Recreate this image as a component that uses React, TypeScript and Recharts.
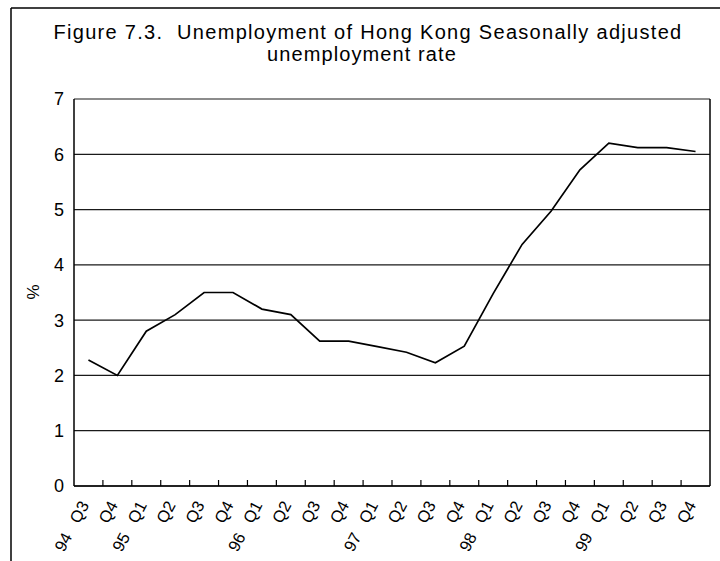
import React from 'react';
import { LineChart, Line, XAxis, YAxis, CartesianGrid } from 'recharts';

const quarters = [
  '1994Q3', '1994Q4', '1995Q1', '1995Q2', '1995Q3', '1995Q4', '1996Q1', '1996Q2',
  '1996Q3', '1996Q4', '1997Q1', '1997Q2', '1997Q3', '1997Q4', '1998Q1', '1998Q2',
  '1998Q3', '1998Q4', '1999Q1', '1999Q2', '1999Q3', '1999Q4',
];
const yearLabels = ['94', '', '95', '', '', '', '96', '', '', '', '97', '', '', '', '98', '', '', '', '99', '', '', ''];
const quarterLabels = ['Q3', 'Q4', 'Q1', 'Q2', 'Q3', 'Q4', 'Q1', 'Q2', 'Q3', 'Q4', 'Q1', 'Q2', 'Q3', 'Q4', 'Q1', 'Q2', 'Q3', 'Q4', 'Q1', 'Q2', 'Q3', 'Q4'];
const rate = [2.28, 2.0, 2.8, 3.1, 3.5, 3.5, 3.2, 3.1, 2.62, 2.62, 2.52, 2.42, 2.23, 2.53, 3.48, 4.37, 4.97, 5.72, 6.2, 6.12, 6.12, 6.05];
const yTicks = [0, 1, 2, 3, 4, 5, 6, 7];
const titleLines = ['Figure 7.3.\u00a0 Unemployment of Hong Kong Seasonally adjusted', 'unemployment rate'];

const data = quarters.map((q, i) => ({ q, rate: rate[i] }));

const FONT = '"Liberation Sans", Arial, Helvetica, sans-serif';
const W = 720;
const H = 561;
const LEFT = 74;
const RIGHT_M = 10;
const TOP = 99;
const XH = 75;
const HALF_BAND = (W - LEFT - RIGHT_M) / quarters.length / 2;

const XTick = (props: any) => {
  const { x, y, index } = props;
  const yr = yearLabels[index];
  const qt = quarterLabels[index];
  const label = yr ? `${yr}\u00a0\u00a0\u00a0${qt}` : qt;
  const ax = x + 1;
  const ay = y + 19;
  return (
    <g>
      {index < quarters.length - 1 && (
        <line x1={x + HALF_BAND} x2={x + HALF_BAND} y1={y} y2={y - 6} stroke="#000" strokeWidth={1.2} />
      )}
      <text
        x={ax}
        y={ay}
        textAnchor="end"
        transform={`rotate(-62, ${ax}, ${ay})`}
        fontSize={16.5}
        fontFamily={FONT}
        fill="#000"
      >
        {label}
      </text>
    </g>
  );
};

export default function App() {
  return (
    <div style={{ position: 'absolute', left: 0, top: 0, width: W, height: H, background: '#fff' }}>
      <LineChart
        width={W}
        height={H}
        data={data}
        margin={{ top: TOP, right: RIGHT_M, left: 0, bottom: 0 }}
      >
        <CartesianGrid horizontal vertical={false} stroke="#1a1a1a" strokeWidth={1.2} />
        <XAxis
          dataKey="q"
          height={XH}
          interval={0}
          padding={{ left: HALF_BAND, right: HALF_BAND }}
          tickLine={false}
          tickSize={0}
          tickMargin={0}
          axisLine={{ stroke: '#000', strokeWidth: 1.5 }}
          tick={<XTick />}
        />
        <YAxis
          width={LEFT}
          domain={[0, 7]}
          ticks={yTicks}
          interval={0}
          tickLine={false}
          tickSize={0}
          tickMargin={10}
          axisLine={{ stroke: '#000', strokeWidth: 1.5 }}
          tick={{ fontSize: 18, fontFamily: FONT, fill: '#000' }}
        />
        <Line
          type="linear"
          dataKey="rate"
          stroke="#000"
          strokeWidth={1.7}
          dot={false}
          activeDot={false}
          isAnimationActive={false}
        />
      </LineChart>
      <svg
        width={W}
        height={H}
        style={{ position: 'absolute', left: 0, top: 0, pointerEvents: 'none' }}
      >
        <line x1={11} y1={8} x2={W} y2={8} stroke="#000" strokeWidth={1.5} />
        <line x1={11} y1={8} x2={11} y2={H} stroke="#000" strokeWidth={1.5} />
        <line x1={W - RIGHT_M} y1={TOP} x2={W - RIGHT_M} y2={H - XH} stroke="#000" strokeWidth={1.5} />
        <text x={368} y={39} textAnchor="middle" fontSize={20} letterSpacing={1.3} fontFamily={FONT} fill="#000">
          {titleLines[0]}
        </text>
        <text x={362} y={61} textAnchor="middle" fontSize={20} letterSpacing={1.1} fontFamily={FONT} fill="#000">
          {titleLines[1]}
        </text>
        <text
          x={33}
          y={292}
          textAnchor="middle"
          dominantBaseline="central"
          transform="rotate(-90, 33, 292)"
          fontSize={17}
          fontFamily={FONT}
          fill="#000"
        >
          %
        </text>
      </svg>
    </div>
  );
}
